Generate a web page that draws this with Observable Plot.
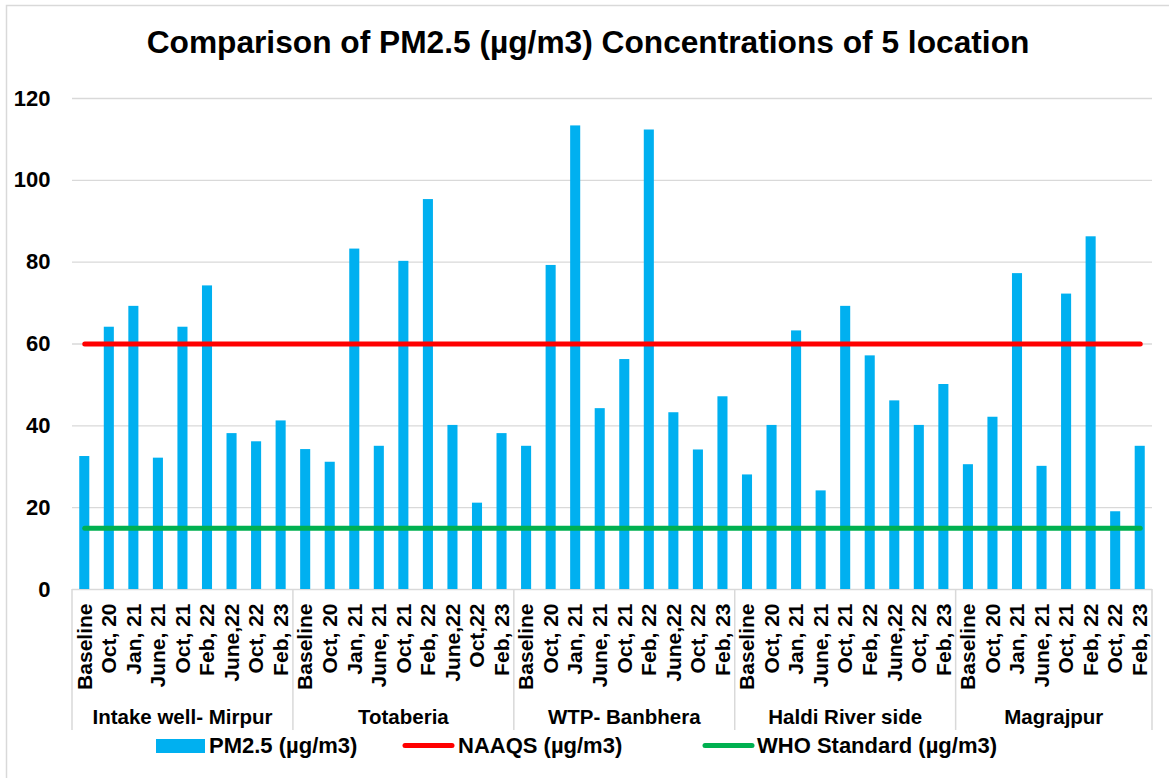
<!DOCTYPE html>
<html>
<head>
<meta charset="utf-8">
<script src="https://cdn.jsdelivr.net/npm/d3@7"></script>
<script src="https://cdn.jsdelivr.net/npm/@observablehq/plot@0.6"></script>
<style>
  html, body { margin: 0; padding: 0; background: #fff; }
  #chart svg { display: block; }
</style>
</head>
<body>
<div id="chart"></div>
<script>
// ---------- data ----------
const groups = ["Intake well- Mirpur", "Totaberia", "WTP- Banbhera", "Haldi River side", "Magrajpur"];

const periodsIntake   = ["Baseline", "Oct, 20", "Jan, 21", "June, 21", "Oct, 21", "Feb, 22", "June,22", "Oct, 22", "Feb, 23"];
const periodsTotaberia= ["Baseline", "Oct, 20", "Jan, 21", "June, 21", "Oct, 21", "Feb, 22", "June,22", "Oct,22", "Feb, 23"];
const periodsWTP      = ["Baseline", "Oct, 20", "Jan, 21", "June, 21", "Oct, 21", "Feb, 22", "June,22", "Oct, 22", "Feb, 23"];
const periodsHaldi    = ["Baseline", "Oct, 20", "Jan, 21", "June, 21", "Oct, 21", "Feb, 22", "June,22", "Oct, 22", "Feb, 23"];
const periodsMagrajpur= ["Baseline", "Oct, 20", "Jan, 21", "June, 21", "Oct, 21", "Feb, 22", "Oct, 22", "Feb, 23"];

const pmIntake    = [32.5, 64.1, 69.2, 32.1, 64.1, 74.2, 38.1, 36.1, 41.2];
const pmTotaberia = [34.2, 31.1, 83.2, 35.0, 80.2, 95.3, 40.1, 21.1, 38.1];
const pmWTP       = [35.0, 79.2, 113.3, 44.2, 56.2, 112.3, 43.2, 34.1, 47.1];
const pmHaldi     = [28.0, 40.1, 63.2, 24.1, 69.2, 57.1, 46.1, 40.1, 50.1];
const pmMagrajpur = [30.5, 42.1, 77.2, 30.1, 72.2, 86.2, 19.0, 35.0];

const naaqs = 60;
const who = 15;
const yTicks = [0, 20, 40, 60, 80, 100, 120];

const title = "Comparison of PM2.5 (µg/m3) Concentrations of 5 location";
const legendLabels = ["PM2.5 (µg/m3)", "NAAQS (µg/m3)", "WHO Standard (µg/m3)"];

// ---------- build table ----------
const periodLists = [periodsIntake, periodsTotaberia, periodsWTP, periodsHaldi, periodsMagrajpur];
const valueLists = [pmIntake, pmTotaberia, pmWTP, pmHaldi, pmMagrajpur];
const rows = [];
groups.forEach((g, i) => periodLists[i].forEach((p, j) => rows.push({ key: g + "|" + p, group: g, period: p, value: valueLists[i][j] })));

const FONT = "'Liberation Sans', Arial, sans-serif";
const PAD = 0.59;
const BLUE = "#00b0f0", RED = "#ff0000", GREEN = "#00b050", GRID = "#d9d9d9";

const plot = Plot.plot({
  width: 1169,
  height: 778,
  marginTop: 98,
  marginBottom: 189,
  marginLeft: 72,
  marginRight: 17,
  style: { fontFamily: FONT, color: "#000", background: "#fff", overflow: "visible" },
  x: { type: "band", domain: rows.map(d => d.key), paddingInner: PAD, paddingOuter: PAD / 2, round: false },
  y: { domain: [0, 120] },
  marks: [
    Plot.ruleY(yTicks, { stroke: GRID, strokeWidth: 1.3 }),
    Plot.barY(rows, { x: "key", y: "value", fill: BLUE }),
    Plot.line(rows, { x: "key", y: () => naaqs, stroke: RED, strokeWidth: 5, strokeLinecap: "round" }),
    Plot.line(rows, { x: "key", y: () => who, stroke: GREEN, strokeWidth: 5, strokeLinecap: "round" }),
    Plot.axisY({ ticks: yTicks, tickSize: 0, tickPadding: 22, fontSize: 22, fontWeight: "bold", label: null }),
    Plot.axisX({ tickRotate: -90, tickSize: 0, tickPadding: 14, fontSize: 21, fontWeight: "bold", label: null,
                 tickFormat: k => k.split("|")[1] })
  ]
});

document.getElementById("chart").appendChild(plot);

// ---------- extras using the plot's scales ----------
const svg = d3.select(plot);
const xs = plot.scale("x");
const ys = plot.scale("y");
const keys = rows.map(d => d.key);
const step = xs.apply(keys[1]) - xs.apply(keys[0]);
const bw = xs.bandwidth != null ? xs.bandwidth : step * (1 - PAD);
const y0 = ys.apply(0);

// outer border
svg.append("rect").attr("x", 6.5).attr("y", 5.5).attr("width", 1300).attr("height", 900)
  .attr("fill", "none").attr("stroke", GRID).attr("stroke-width", 1.5);

// group separators and labels
const bounds = [];
groups.forEach((g, i) => {
  const gk = rows.filter(d => d.group === g).map(d => d.key);
  const left = xs.apply(gk[0]) + bw / 2 - step / 2;
  const right = xs.apply(gk[gk.length - 1]) + bw / 2 + step / 2;
  bounds.push([left, right]);
});
const sepX = [bounds[0][0], ...bounds.map(b => b[1])];
svg.append("g").selectAll("line").data(sepX).join("line")
  .attr("x1", d => d).attr("x2", d => d)
  .attr("y1", y0).attr("y2", y0 + 141)
  .attr("stroke", GRID).attr("stroke-width", 1.5);
svg.append("g").attr("text-anchor", "middle").selectAll("text").data(groups).join("text")
  .attr("x", (d, i) => (bounds[i][0] + bounds[i][1]) / 2)
  .attr("y", y0 + 135)
  .attr("font-size", 20.5).attr("font-weight", "bold").attr("fill", "#000")
  .text(d => d);

// title
svg.append("text").attr("x", 588).attr("y", 53).attr("text-anchor", "middle")
  .attr("font-size", 31.7).attr("font-weight", "bold").attr("fill", "#000").text(title);

// legend
const lg = svg.append("g").attr("font-size", 22).attr("font-weight", "bold").attr("fill", "#000")
  .attr("text-anchor", "start");
lg.append("rect").attr("x", 156).attr("y", 739).attr("width", 49).attr("height", 14).attr("fill", BLUE);
lg.append("text").attr("x", 209).attr("y", 753).text(legendLabels[0]);
lg.append("line").attr("x1", 405).attr("x2", 452).attr("y1", 745.5).attr("y2", 745.5)
  .attr("stroke", RED).attr("stroke-width", 5).attr("stroke-linecap", "round");
lg.append("text").attr("x", 458).attr("y", 753).text(legendLabels[1]);
lg.append("line").attr("x1", 705).attr("x2", 752).attr("y1", 745.5).attr("y2", 745.5)
  .attr("stroke", GREEN).attr("stroke-width", 5).attr("stroke-linecap", "round");
lg.append("text").attr("x", 757).attr("y", 753).text(legendLabels[2]);
</script>
</body>
</html>
